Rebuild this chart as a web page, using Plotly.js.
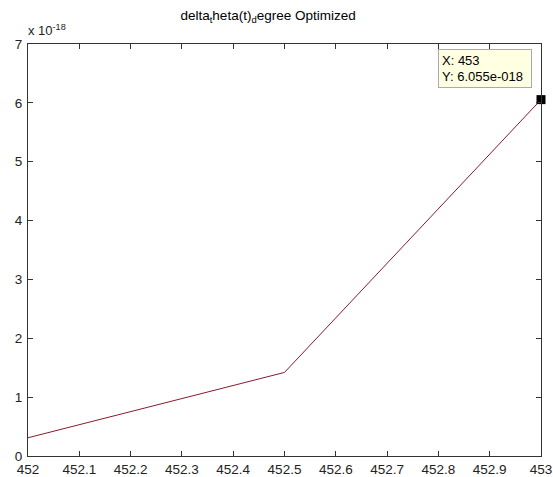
<!DOCTYPE html>
<html>
<head>
<meta charset="utf-8">
<script src="https://cdn.plot.ly/plotly-3.0.1.min.js"></script>
<style>html,body{margin:0;padding:0;background:#fff;}#chart{width:553px;height:477px;}</style>
</head>
<body>
<div id="chart"></div>
<script>
const xValues = [452, 452.5, 453];
const yValues = [0.31e-18, 1.42e-18, 6.055e-18];
const xTicks = [452, 452.1, 452.2, 452.3, 452.4, 452.5, 452.6, 452.7, 452.8, 452.9, 453];
const xTickLabels = ['452', '452.1', '452.2', '452.3', '452.4', '452.5', '452.6', '452.7', '452.8', '452.9', '453'];
const yTicks = [0, 1e-18, 2e-18, 3e-18, 4e-18, 5e-18, 6e-18, 7e-18];
const yTickLabels = ['0', '1', '2', '3', '4', '5', '6', '7'];
const tipX = [453];
const tipY = [6.055e-18];

const font = 'Liberation Sans, Arial, sans-serif';
const traces = [
  {x: xValues, y: yValues, type: 'scatter', mode: 'lines',
   line: {color: '#8b1a2e', width: 1}, hoverinfo: 'skip'},
  {x: tipX, y: tipY, type: 'scatter', mode: 'markers',
   marker: {color: '#000', size: 9, symbol: 'square'}, hoverinfo: 'skip', cliponaxis: false}
];
const axisCommon = {
  showgrid: false, zeroline: false, showline: true, linecolor: '#333', linewidth: 1,
  mirror: 'allticks', ticks: 'inside', ticklen: 5, tickcolor: '#333',
  tickfont: {family: font, size: 13.5, color: '#222'}
};
const layout = {
  width: 553, height: 477,
  margin: {l: 28, r: 12, t: 44, b: 21},
  paper_bgcolor: '#fff', plot_bgcolor: '#fff',
  showlegend: false,
  title: {text: 'delta<sub>t</sub>heta(t)<sub>d</sub>egree Optimized',
          font: {family: font, size: 13.5, color: '#000'}, xref: 'paper', x: 0.468, xanchor: 'center', y: 0.978, yanchor: 'top'},
  xaxis: Object.assign({}, axisCommon, {range: [452, 453], tickvals: xTicks, ticktext: xTickLabels, ticklabelstandoff: 1}),
  yaxis: Object.assign({}, axisCommon, {range: [0, 7e-18], tickvals: yTicks, ticktext: yTickLabels, ticklabelstandoff: 2}),
  annotations: [
    {xref: 'paper', yref: 'paper', x: -0.004, y: 1.0, xanchor: 'left', yanchor: 'bottom', yshift: 4,
     text: 'x 10<sup>-18</sup>', showarrow: false, font: {family: font, size: 13, color: '#222'}},
    {xref: 'x', yref: 'y', x: tipX[0], y: tipY[0], xanchor: 'right', yanchor: 'bottom',
     xshift: -9, yshift: 12, align: 'left', showarrow: false,
     text: 'X: ' + tipX[0] + '<br>Y: 6.055e-018',
     font: {family: font, size: 13, color: '#000'},
     bgcolor: '#ffffe1', bordercolor: '#aaa', borderwidth: 1, borderpad: 3,
     width: 86, height: 31}
  ]
};
Plotly.newPlot('chart', traces, layout, {displayModeBar: false, staticPlot: true});
</script>
</body>
</html>
